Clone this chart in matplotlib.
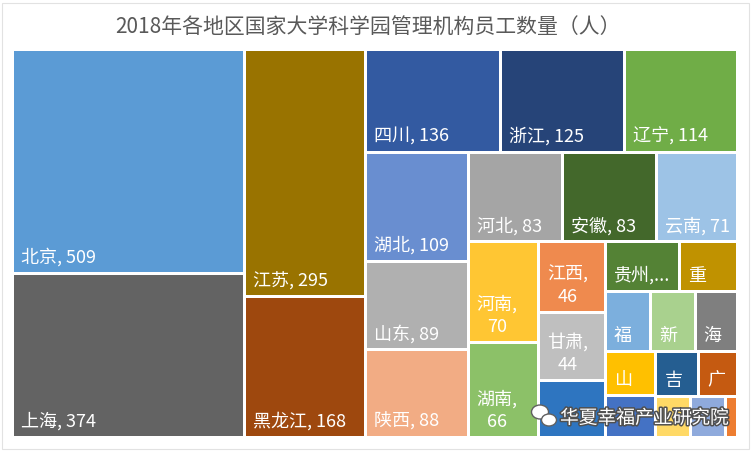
import matplotlib
matplotlib.use('Agg')
import matplotlib.pyplot as plt
from matplotlib.patches import Rectangle, Ellipse
import matplotlib.patheffects as pe

plt.rcParams['font.family'] = ['Noto Sans CJK SC', 'DejaVu Sans']

title = '2018年各地区国家大学科学园管理机构员工数量（人）'
regions = ['北京', '上海', '江苏', '黑龙江', '四川', '浙江', '辽宁', '湖北', '山东', '陕西',
           '河北', '安徽', '云南', '河南', '湖南', '江西', '甘肃', '天津', '贵州', '重庆',
           '福建', '新疆', '海南', '山西', '广西', '吉林', '广东', '内蒙古', '宁夏', '青海']
staff = [509, 374, 295, 168, 136, 125, 114, 109, 89, 88,
         83, 83, 71, 70, 66, 46, 44, 37, 36, 28,
         27, 26, 25, 22, 21, 19, 17, 14, 14, 5]
colors = ['#5B9BD5', '#636363', '#997300', '#9E480E', '#335AA1', '#264478', '#70AD47', '#698ED0', '#B0B0B0', '#F2AC84',
          '#A5A5A5', '#43682B', '#9DC3E6', '#FFC633', '#8CC168', '#EF8A4E', '#BFBFBF', '#2E75C0', '#548235', '#C09200',
          '#7CAFDD', '#A9D18E', '#7F7F7F', '#FFC000', '#4472C4', '#255E91', '#C55A11', '#FFD966', '#8FAADC', '#ED7D31']

FW, FH = 751, 451
fig = plt.figure(figsize=(FW / 100, FH / 100), dpi=100)
fig.patch.set_facecolor('white')

# plot area in pixels
L, T, R, B = 12.5, 49.5, 737.5, 437.5
ax = fig.add_axes([L / FW, 1 - B / FH, (R - L) / FW, (B - T) / FH])
ax.set_xlim(0, R - L)
ax.set_ylim(B - T, 0)
ax.axis('off')


def aspect(a, b):
    return max(a / b, b / a)


def treemap(vals, x, y, w, h):
    # squarified-like strips, a strip grows while its newest cell gets squarer
    scale = w * h / sum(vals)
    rects = []
    i = 0
    while i < len(vals):
        short = min(w, h)

        def last_aspect(row):
            thick = sum(row) * scale / short
            return aspect(thick, row[-1] * scale / thick)

        row = [vals[i]]
        j = i + 1
        while j < len(vals):
            cand = row + [vals[j]]
            if last_aspect(cand) > last_aspect(row):
                break
            row = cand
            j += 1
        thick = sum(row) * scale / short
        pos = 0
        for v in row:
            length = v * scale / thick
            if w >= h:
                rects.append((x, y + pos, thick, length))
            else:
                rects.append((x + pos, y, length, thick))
            pos += length
        if w >= h:
            x += thick
            w -= thick
        else:
            y += thick
            h -= thick
        i = j
    return rects


rects = treemap(staff, 0, 0, R - L, B - T)

gap = 1.5
pad = 7
fs = 13
fpx = fs * 100 / 72
renderer = fig.canvas.get_renderer()


def text_width(s):
    t = ax.text(0, 0, s, fontsize=fs)
    wd = t.get_window_extent(renderer).width
    t.remove()
    return wd


# watermark first, labels hidden beneath it are dropped
wm = fig.text(560 / FW, 1 - 418 / FH, '华夏幸福产业研究院', ha='left', va='center',
              fontsize=13.5, color='white', zorder=10)
wm.set_path_effects([pe.withStroke(linewidth=2.2, foreground='#505050')])
wm_box = wm.get_window_extent(renderer).expanded(1.0, 1.0)
wm_box.x0 -= 32

labels = []
for name, val, col, (x, y, w, h) in zip(regions, staff, colors, rects):
    ax.add_patch(Rectangle((x + gap, y + gap), w - 2 * gap, h - 2 * gap,
                           facecolor=col, edgecolor='none'))
    iw, ih = w - 2 * gap, h - 2 * gap
    full = f'{name}, {val}'
    label = None
    if text_width(full) + 10 <= iw and ih >= fpx + 2 * pad:
        label = full
    elif text_width(name + ',') + 10 <= iw and ih >= 2 * 1.3 * fpx + 2 * pad:
        label = f'{name},\n{val}'
    elif text_width(name + ',...') + 10 <= iw and ih >= fpx + 2 * pad:
        label = name + ',...'
    elif text_width(name[0]) + 10 <= iw and ih >= fpx + 2 * pad:
        label = name[0]
    if label:
        t = ax.text(x + gap + pad, y + h - gap - pad + 2, label, fontsize=fs, color='white',
                    ha='left', va='bottom', multialignment='center', linespacing=1.3)
        if t.get_window_extent(renderer).overlaps(wm_box):
            t.remove()

fig.text(0.49, 1 - 27 / FH, title, ha='center', va='center', fontsize=15, color='#595959')

for ex, ey, ew, eh in [(540, 412, 17, 14), (549, 420, 15, 12)]:
    ax.add_patch(Ellipse((ex - L, ey - T), ew, eh, facecolor='white', edgecolor='#606060',
                         lw=1, zorder=10))

fig.patches.append(Rectangle((2 / FW, 2 / FH), 747 / FW, 446 / FH, transform=fig.transFigure,
                             fill=False, edgecolor='#e2e2e2', lw=0.8))

fig.savefig('out.png', dpi=100)
